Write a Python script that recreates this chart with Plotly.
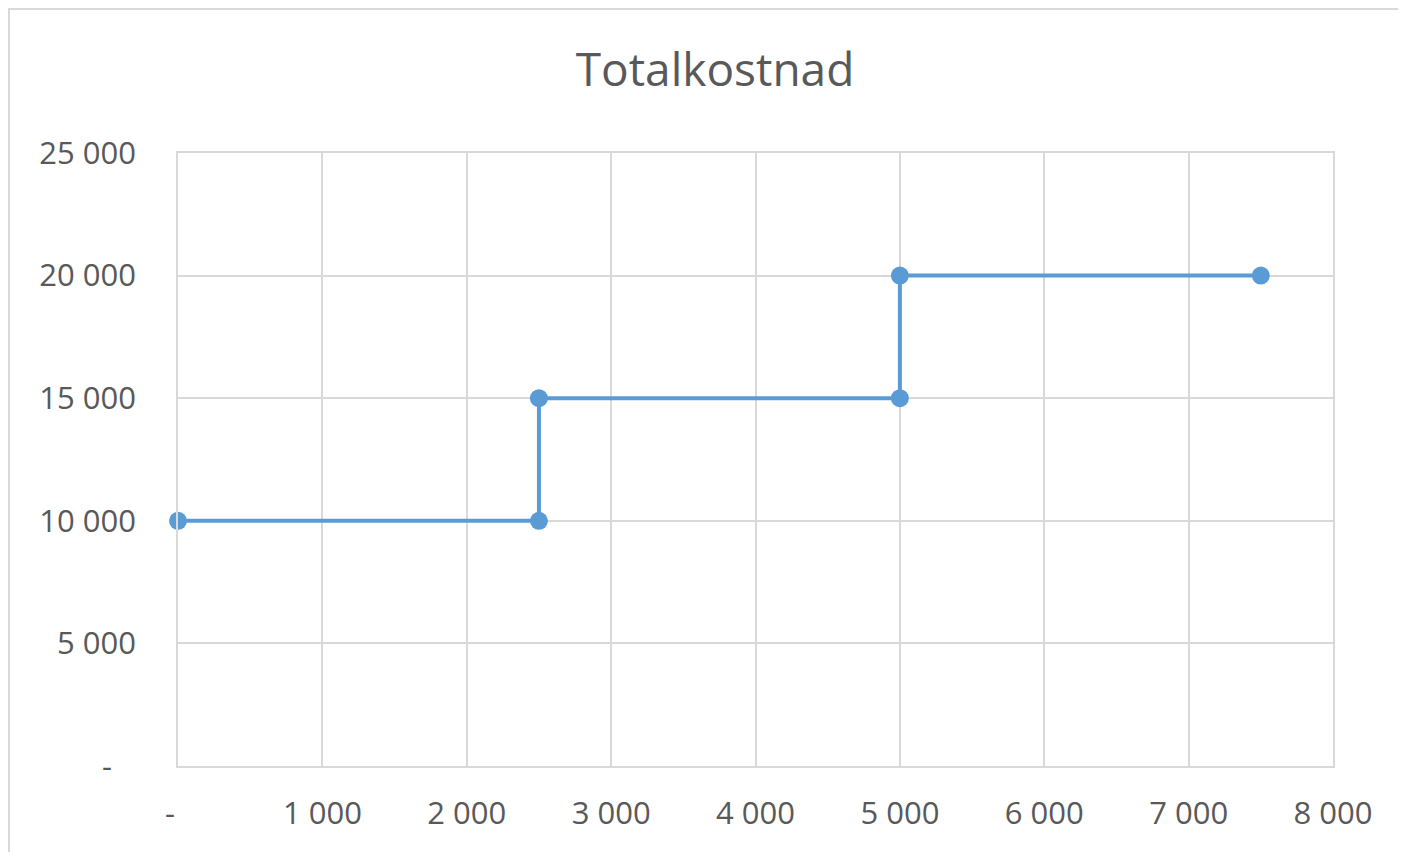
import plotly.graph_objects as go

# Data
volume = [0, 2500, 2500, 5000, 5000, 7500]
total_cost = [10000, 10000, 15000, 15000, 20000, 20000]

x_tickvals = [0, 1000, 2000, 3000, 4000, 5000, 6000, 7000, 8000]
x_ticktext = ["-\u00a0\u00a0", "1 000", "2 000", "3 000", "4 000", "5 000", "6 000", "7 000", "8 000"]
y_tickvals = [0, 5000, 10000, 15000, 20000, 25000]
y_ticktext = ["-\u00a0\u00a0\u00a0", "5 000", "10 000", "15 000", "20 000", "25 000"]

text_color = "#595959"
grid_color = "#d9d9d9"
line_color = "#5b9bd5"

W, H = 1398, 844
L, R, T, B = 170, 73, 145, 86
pw, ph = W - L - R, H - T - B

fig = go.Figure()
fig.add_trace(go.Scatter(
    x=volume, y=total_cost, mode="lines+markers",
    line=dict(color=line_color, width=4),
    marker=dict(color=line_color, size=18),
    cliponaxis=False, showlegend=False,
))

fig.update_layout(
    width=W, height=H,
    margin=dict(l=L, r=R, t=T, b=B),
    paper_bgcolor="white", plot_bgcolor="white",
    font=dict(family="Open Sans, Segoe UI, sans-serif", color=text_color, size=31),
    title=dict(text="Totalkostnad", x=(715 - 8) / W, xanchor="center", y=1 - 62 / H, yanchor="middle",
               font=dict(size=46, color=text_color)),
    xaxis=dict(range=[0, 8000], tickvals=x_tickvals, ticktext=x_ticktext,
               showgrid=True, gridcolor=grid_color, gridwidth=1.5, zeroline=False,
               showline=True, linecolor=grid_color, linewidth=1.5, mirror=True,
               ticks="", ticklabelstandoff=19, fixedrange=True),
    yaxis=dict(range=[0, 25000], tickvals=y_tickvals, ticktext=y_ticktext,
               showgrid=True, gridcolor=grid_color, gridwidth=1.5, zeroline=False,
               showline=True, linecolor=grid_color, linewidth=1.5, mirror=True,
               ticks="", ticklabelstandoff=34, fixedrange=True),
)

# outer chart border (top and left visible)
fig.add_shape(type="rect", xref="paper", yref="paper",
              x0=(1 - L) / pw, x1=(W + 10 - L) / pw,
              y0=(H - B - H - 10) / ph, y1=(H - B - 1) / ph,
              line=dict(color="#d9d9d9", width=2), layer="below")

fig.write_html("out.html")
